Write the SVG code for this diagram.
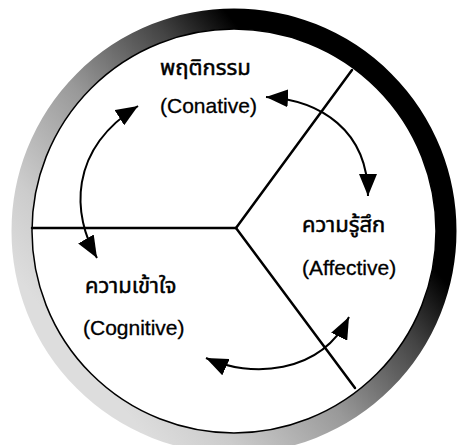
<svg xmlns="http://www.w3.org/2000/svg" width="458" height="445" viewBox="0 0 458 445">
<style>
.div{stroke:#000;stroke-width:2.5;fill:none;stroke-linecap:round}
.arr{stroke:#000;stroke-width:2;fill:none}
.th{font-family:"Noto Sans Thai","Noto Sans","DejaVu Sans",sans-serif;font-size:22px;fill:#000;stroke:#000;stroke-width:0.5}
.en{font-family:"Liberation Sans",Arial,sans-serif;font-size:21px;fill:#000;stroke:#000;stroke-width:0.3}
</style>
<defs>
<linearGradient id="ring" gradientUnits="userSpaceOnUse" x1="420" y1="120" x2="100" y2="380">
<stop offset="0" stop-color="#000"/>
<stop offset="0.2" stop-color="#000"/>
<stop offset="0.35" stop-color="#444"/>
<stop offset="0.6" stop-color="#999"/>
<stop offset="0.85" stop-color="#ccc"/>
<stop offset="1" stop-color="#ddd"/>
</linearGradient>
<marker id="ah" viewBox="0 0 22 18" refX="22" refY="9" markerWidth="22" markerHeight="18" markerUnits="userSpaceOnUse" orient="auto-start-reverse">
<path d="M0,0 L22,9 L0,18 z" fill="#000"/>
</marker>
</defs>
<rect width="458" height="445" fill="#fff"/>
<g id="ring-group">
<circle cx="234" cy="231" r="212" fill="none" stroke="url(#ring)" stroke-width="21"/>
<circle cx="234" cy="231" r="202" fill="#fff" stroke="#000" stroke-width="1.5"/>
</g>
<g id="connectors">
<line class="div" x1="236" y1="228" x2="32" y2="228"/>
<line class="div" x1="236" y1="228" x2="352" y2="70"/>
<line class="div" x1="236" y1="228" x2="355" y2="388"/>
<path class="arr" d="M97,258 C72,215 68,150 138,106" marker-start="url(#ah)" marker-end="url(#ah)"/>
<path class="arr" d="M266,97 C320,100 368,130 368,196" marker-start="url(#ah)" marker-end="url(#ah)"/>
<path class="arr" d="M206,358 C250,378 320,375 349,317" marker-start="url(#ah)" marker-end="url(#ah)"/>
</g>
<g id="conative">
<text class="th" x="160" y="75">พฤติกรรม</text>
<text class="en" x="160" y="113">(Conative)</text>
</g>
<g id="affective">
<text class="th" x="302" y="232">ความรู้สึก</text>
<text class="en" x="302" y="275">(Affective)</text>
</g>
<g id="cognitive">
<text class="th" x="85" y="293">ความเข้าใจ</text>
<text class="en" x="83" y="335">(Cognitive)</text>
</g>
</svg>
